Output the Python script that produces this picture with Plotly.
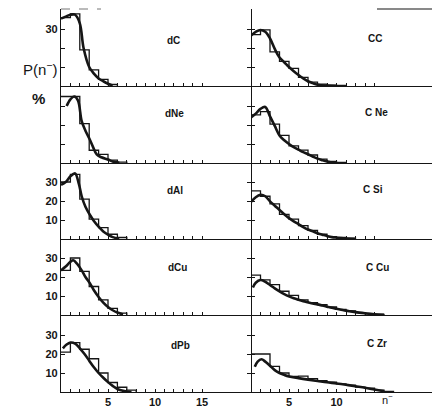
import plotly.graph_objects as go

W, H = 432, 407

# ---------------- data ----------------
labels_left = ["dC", "dNe", "dAl", "dCu", "dPb"]
labels_right = ["CC", "C Ne", "C Si", "C Cu", "C Zr"]

# histogram heights P(n-) in %, unit bins starting at n=0 (left) / n=1 (right)
hist_dC = [36, 38, 19, 8.5, 3.5, 0.8]
hist_dNe = [35, 35, 20.7, 6.7, 4.5, 1.5, 0.5]
hist_dAl = [30, 34, 21, 10.5, 6, 2.5, 0.8]
hist_dCu = [23.5, 30, 23, 15, 8, 3.5, 1]
hist_dPb = [21, 26, 22.5, 17.5, 10, 5, 2.5, 1]

hist_CC = [27, 29.5, 18, 13, 9.3, 4.5, 2, 1, 0.5, 0.3]
hist_CNe = [25.3, 27, 20.5, 14.5, 9, 6.8, 4.2, 2, 0.8, 0.3]
hist_CSi = [25.3, 22.5, 18.5, 13, 10.5, 7, 4.5, 2.5, 1.2, 0.8, 0.4]
hist_CCu = [21, 18.5, 16, 12.5, 10.3, 8, 6.5, 5.5, 4.2, 3, 2.2, 1.2, 0.6, 0.3]
hist_CZr = [20, 20, 13.5, 10, 8.2, 8.4, 7, 6, 5.2, 4.3, 3.6, 2.6, 2, 1, 0.3]

# smooth model curves
cx_dC = [0, 0.5, 1, 1.5, 2, 2.4, 3, 3.5, 4, 4.5, 5, 5.5]
cy_dC = [35.5, 36.5, 37.5, 37.5, 33, 20, 10, 6.5, 4, 2.5, 1.2, 0.2]
cx_dNe = [0.6, 1, 1.4, 1.8, 2.2, 2.6, 3, 3.4, 3.8, 4.3, 5, 5.5, 6.2]
cy_dNe = [30, 33.5, 35, 33, 22, 17, 13, 8.5, 4.5, 3, 1.8, 0.8, 0.1]
cx_dAl = [0, 0.5, 1, 1.5, 1.9, 2.2, 2.6, 3.1, 3.5, 4, 4.5, 5, 5.5, 6.2]
cy_dAl = [28.5, 30, 33, 34.5, 29, 22.5, 17, 12.5, 9.5, 6.5, 4, 2.3, 1, 0.2]
cx_dCu = [0, 0.5, 1, 1.3, 1.7, 2.2, 2.6, 3.1, 3.5, 4, 4.5, 5, 5.5, 6, 6.6]
cy_dCu = [23.5, 25.5, 28, 28.8, 27, 23.5, 20, 16.5, 13, 9.5, 6.5, 4.2, 2.5, 1.3, 0.3]
cx_dPb = [0.2, 0.6, 1, 1.5, 2, 2.5, 3, 3.5, 4, 4.5, 5, 5.5, 6, 6.5, 7, 7.5]
cy_dPb = [23, 25, 26, 25.5, 23, 20, 16.5, 13, 10, 7.5, 5.2, 3.2, 1.6, 0.8, 0.3, 0]

cx_CC = [1, 1.5, 2, 2.5, 3, 3.5, 4, 4.5, 5, 5.5, 6, 6.5, 7, 7.5, 8, 9, 10]
cy_CC = [26.5, 28.5, 29.5, 28.5, 25, 19.5, 15, 12.5, 10, 7.8, 5.8, 4, 2.5, 1.5, 0.7, 0.2, 0]
cx_CNe = [1, 1.5, 2, 2.5, 3, 3.5, 4, 4.5, 5, 5.5, 6, 6.5, 7, 7.5, 8, 8.5, 9, 9.5, 10]
cy_CNe = [24, 26, 28.5, 29.5, 24.5, 19.5, 14.5, 12, 10, 8.3, 7, 5.7, 4.6, 3.4, 2.3, 1.5, 0.8, 0.3, 0]
cx_CSi = [1, 1.5, 2, 2.5, 3, 3.5, 4, 4.5, 5, 5.5, 6, 6.5, 7, 7.5, 8, 8.5, 9, 9.5, 10, 11, 12]
cy_CSi = [19.5, 22, 23.2, 22.5, 19.8, 17.5, 15.3, 13, 11, 9.3, 7.8, 6.3, 5, 4, 3, 2.3, 1.6, 1, 0.7, 0.3, 0]
cx_CCu = [1.2, 1.5, 2, 2.5, 3, 3.5, 4, 4.5, 5, 5.5, 6, 6.5, 7, 7.5, 8, 8.5, 9, 9.5, 10, 10.5, 11, 11.5, 12, 13, 14, 15]
cy_CCu = [14.5, 17, 18.4, 17.5, 15.8, 14, 12.4, 11, 9.8, 8.8, 8, 7.3, 6.7, 6.1, 5.6, 5, 4.4, 3.8, 3.3, 2.8, 2.3, 1.9, 1.5, 0.9, 0.4, 0.1]
cx_CZr = [1.4, 1.7, 2.1, 2.5, 3, 3.5, 4, 4.5, 5, 6, 7, 8, 9, 10, 11, 12, 13, 14, 15]
cy_CZr = [13.3, 16, 17.2, 16, 13.8, 11.5, 10, 9, 8.2, 7.3, 6.5, 5.8, 5.1, 4.5, 3.8, 3, 2.2, 1.3, 0.4]

left_hist = [hist_dC, hist_dNe, hist_dAl, hist_dCu, hist_dPb]
right_hist = [hist_CC, hist_CNe, hist_CSi, hist_CCu, hist_CZr]
left_curves = [(cx_dC, cy_dC), (cx_dNe, cy_dNe), (cx_dAl, cy_dAl), (cx_dCu, cy_dCu), (cx_dPb, cy_dPb)]
right_curves = [(cx_CC, cy_CC), (cx_CNe, cy_CNe), (cx_CSi, cy_CSi), (cx_CCu, cy_CCu), (cx_CZr, cy_CZr)]

ytick_vals = [10, 20, 30]
xtick_left = [5, 10, 15]
xtick_right = [5, 10]
xminor_left = list(range(1, 16))
xminor_right = list(range(2, 15))

# ---------------- layout geometry ----------------
row_px = [(9, 86), (86, 163), (163, 239), (239, 315), (315, 392)]
PX_PER_Y = 1.9
xl0, xmid, xr1 = 61, 251, 432
PX_PER_X_L = 9.4
PX_PER_X_R = 9.5

INK = "#151515"
FONT = "Liberation Sans"

fig = go.Figure()
layout = dict(
    width=W, height=H, margin=dict(l=0, r=0, t=0, b=0),
    paper_bgcolor="white", plot_bgcolor="white", showlegend=False,
    font=dict(family=FONT, color=INK, size=11),
)


def yp(py):
    return 1 - py / H


tickfont = dict(family=FONT, size=11, color=INK, weight="bold")
annotations = []
for r in range(5):
    top, bot = row_px[r]
    yr = (bot - top) / PX_PER_Y
    for c in range(2):
        idx = r * 2 + c + 1
        xa = "x" if idx == 1 else f"x{idx}"
        ya = "y" if idx == 1 else f"y{idx}"
        if c == 0:
            hist = left_hist[r]
            start = 0
            cx, cy = left_curves[r]
            xdom = [xl0 / W, xmid / W]
            xrange = [0, (xmid - xl0) / PX_PER_X_L]
            xminor = xminor_left
            xmajor = xtick_left
        else:
            hist = right_hist[r]
            start = 1
            cx, cy = right_curves[r]
            xdom = [xmid / W, 1]
            xrange = [1, 1 + (xr1 - xmid) / PX_PER_X_R]
            xminor = xminor_right
            xmajor = xtick_right

        edges = list(range(start, start + len(hist) + 1))
        fig.add_trace(go.Scatter(
            x=edges, y=list(hist) + [0], mode="lines", line_shape="hv",
            line=dict(color=INK, width=1.3), xaxis=xa, yaxis=ya, hoverinfo="skip"))
        fig.add_trace(go.Scatter(
            x=cx, y=cy, mode="lines", line_shape="spline",
            line=dict(color=INK, width=2.6), xaxis=xa, yaxis=ya, hoverinfo="skip"))

        if c == 0 and r == 0:
            ymajor, yshow = [30], True
        elif c == 0 and r >= 2:
            ymajor, yshow = ytick_vals, True
        else:
            ymajor, yshow = ytick_vals, False

        key_x = "xaxis" if idx == 1 else f"xaxis{idx}"
        key_y = "yaxis" if idx == 1 else f"yaxis{idx}"
        layout[key_x] = dict(
            domain=xdom, range=xrange, anchor=ya, showgrid=False, zeroline=False,
            showline=True, linecolor=INK, linewidth=1.4,
            ticks="", tickmode="array", tickvals=xmajor,
            showticklabels=(r == 4), tickfont=tickfont,
            minor=dict(ticks="inside", ticklen=3, tickwidth=1.2, tickcolor=INK,
                       tickmode="array", tickvals=xminor, showgrid=False),
            fixedrange=True)
        layout[key_y] = dict(
            domain=[yp(bot), yp(top)], range=[0, yr], anchor=xa, showgrid=False,
            zeroline=False, showline=(c == 0), linecolor=INK, linewidth=1.2,
            mirror="ticks" if c == 0 else False,
            ticks="inside", ticklen=4, tickwidth=1.2, tickcolor=INK,
            tickmode="array", tickvals=ymajor, showticklabels=yshow,
            tickfont=tickfont,
            minor=dict(ticks="inside", ticklen=4, tickwidth=1.2, tickcolor=INK,
                       tickmode="array", tickvals=ytick_vals, showgrid=False),
            fixedrange=True)

# panel labels
left_pos = [(173, 40), (174, 113), (175, 190), (177, 267), (180, 345)]
right_pos = [(375, 39), (376, 112), (373, 189), (377, 267), (377, 343)]
lblfont = dict(family=FONT, size=10, color=INK, weight="bold")


def note(px, py, text, font):
    return dict(x=px / W, y=yp(py), xref="paper", yref="paper", text=text,
                showarrow=False, xanchor="center", yanchor="middle", font=font)


for (px, py), t in zip(left_pos, labels_left):
    annotations.append(note(px, py, t, lblfont))
for (px, py), t in zip(right_pos, labels_right):
    annotations.append(note(px, py, t, lblfont))

annotations.append(note(40, 68, "P(n<sup>−</sup>)", dict(family=FONT, size=15, color=INK)))
annotations.append(note(38, 99, "%", dict(family=FONT, size=15, color=INK, weight="bold")))
annotations.append(note(387, 399, "n<sup>−</sup>", dict(family=FONT, size=11, color=INK)))
layout["annotations"] = annotations

# partial top frame seen in the scan
layout["shapes"] = [
    dict(type="line", xref="paper", yref="paper", x0=61 / W, x1=101 / W,
         y0=yp(9), y1=yp(9), line=dict(color="#777", width=1, dash="dash")),
    dict(type="line", xref="paper", yref="paper", x0=377 / W, x1=1,
         y0=yp(9), y1=yp(9), line=dict(color=INK, width=1.2)),
]

fig.update_layout(**layout)
fig.write_html("out.html", config={"displayModeBar": False},
               post_script="document.body.style.margin='0';")
